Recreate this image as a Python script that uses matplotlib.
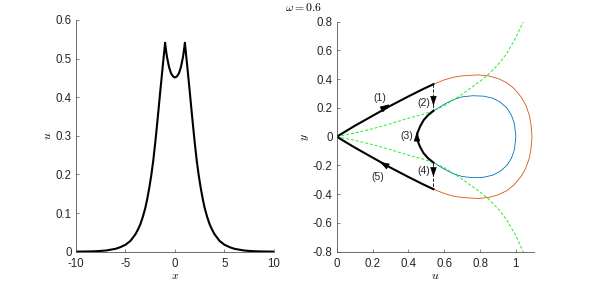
import numpy as np
import matplotlib
matplotlib.use("Agg")
import matplotlib.pyplot as plt

plt.rcParams['font.family'] = ['Liberation Sans', 'DejaVu Sans']
plt.rcParams['mathtext.fontset'] = 'cm'
plt.rcParams['axes.unicode_minus'] = False

# profil u(x)
x_prof = [-10, -9, -8, -7, -6, -5.5, -5, -4.5, -4, -3.75, -3.5, -3.25, -3, -2.8, -2.6, -2.4, -2.2,
          -2, -1.9, -1.8, -1.7, -1.6, -1.5, -1.4, -1.3, -1.2, -1.1, -1,
          -0.9, -0.8, -0.6, -0.4, -0.2, 0, 0.2, 0.4, 0.6, 0.8, 0.9,
          1, 1.1, 1.2, 1.3, 1.4, 1.5, 1.6, 1.7, 1.8, 1.9, 2,
          2.2, 2.4, 2.6, 2.8, 3, 3.25, 3.5, 3.75, 4, 4.5, 5, 5.5, 6, 7, 8, 9, 10]
u_prof = [0.0002, 0.0005, 0.0012, 0.003, 0.0075, 0.012, 0.018, 0.028, 0.045, 0.057, 0.071, 0.09, 0.113, 0.137, 0.165, 0.197, 0.235,
          0.281, 0.306, 0.332, 0.358, 0.385, 0.412, 0.438, 0.464, 0.49, 0.515, 0.541,
          0.52, 0.503, 0.478, 0.462, 0.454, 0.451, 0.454, 0.462, 0.478, 0.503, 0.52,
          0.541, 0.515, 0.49, 0.464, 0.438, 0.412, 0.385, 0.358, 0.332, 0.306, 0.281,
          0.235, 0.197, 0.165, 0.137, 0.113, 0.09, 0.071, 0.057, 0.045, 0.028, 0.018, 0.012, 0.0075, 0.003, 0.0012, 0.0005, 0.0002]

# plan de phase
# orbite externe (orange)
u_orange = [0.54, 0.6, 0.65, 0.7, 0.79, 0.85, 0.9, 0.95, 0.99, 1.03, 1.055, 1.075, 1.085, 1.09,
            1.085, 1.075, 1.055, 1.03, 0.99, 0.95, 0.9, 0.85, 0.79, 0.7, 0.65, 0.6, 0.54]
y_orange = [0.365, 0.395, 0.413, 0.423, 0.43, 0.422, 0.405, 0.375, 0.335, 0.275, 0.22, 0.15, 0.08, 0.0,
            -0.08, -0.15, -0.22, -0.275, -0.335, -0.375, -0.405, -0.422, -0.43, -0.423, -0.413, -0.395, -0.365]

# orbite interne (bleu)
u_blue = [0.54, 0.6, 0.65, 0.7, 0.76, 0.82, 0.87, 0.91, 0.95, 0.975, 0.992, 1.0,
          0.992, 0.975, 0.95, 0.91, 0.87, 0.82, 0.76, 0.7, 0.65, 0.6, 0.54]
y_blue = [0.18, 0.225, 0.257, 0.277, 0.285, 0.282, 0.268, 0.243, 0.2, 0.15, 0.09, 0.0,
          -0.09, -0.15, -0.2, -0.243, -0.268, -0.282, -0.285, -0.277, -0.257, -0.225, -0.18]

# separatrices (vert)
u_green = [0, 0.1, 0.2, 0.3, 0.4, 0.48, 0.54, 0.6, 0.65, 0.7, 0.75, 0.8, 0.84, 0.9, 0.95, 1.0, 1.045]
y_green_up = [0, 0.025, 0.055, 0.09, 0.128, 0.155, 0.18, 0.215, 0.255, 0.295, 0.34, 0.385, 0.425, 0.5, 0.58, 0.69, 0.81]
y_green_dn = [0, -0.025, -0.055, -0.09, -0.128, -0.155, -0.18, -0.215, -0.255, -0.295, -0.34, -0.385, -0.425, -0.5, -0.58, -0.69, -0.81]

# trajectoire (noir)
u_b1 = [0, 0.1, 0.2, 0.3, 0.4, 0.48, 0.54]
y_b1 = [0, 0.075, 0.145, 0.215, 0.28, 0.33, 0.365]
u_b3 = [0.54, 0.51, 0.485, 0.465, 0.452, 0.448, 0.452, 0.465, 0.485, 0.51, 0.54]
y_b3 = [0.18, 0.15, 0.115, 0.07, 0.03, 0.0, -0.03, -0.07, -0.115, -0.15, -0.18]
u_b5 = [0.54, 0.48, 0.4, 0.3, 0.2, 0.1, 0]
y_b5 = [-0.365, -0.33, -0.28, -0.215, -0.145, -0.075, 0]
u_jump = 0.54
y_jump_up = [0.365, 0.18]
y_jump_dn = [-0.18, -0.365]

etiquettes = ['(1)', '(2)', '(3)', '(4)', '(5)']
etiq_u = [0.238, 0.484, 0.39, 0.484, 0.227]
etiq_y = [0.267, 0.237, 0.005, -0.239, -0.278]

gris = '#262626'
fig = plt.figure(figsize=(5.9, 2.84), dpi=100)
ax1 = fig.add_axes([0.1288, 0.1137, 0.3356, 0.816])
ax2 = fig.add_axes([0.5707, 0.1137, 0.3340, 0.810])

ax1.plot(x_prof, u_prof, color='k', lw=1.5)
ax1.set_xlim(-10, 10)
ax1.set_ylim(0, 0.6)
ax1.set_xticks([-10, -5, 0, 5, 10])
ax1.set_xticklabels(['-10', '-5', '0', '5', '10'])
ax1.set_yticks([0, 0.1, 0.2, 0.3, 0.4, 0.5, 0.6])
ax1.set_yticklabels(['0', '0.1', '0.2', '0.3', '0.4', '0.5', '0.6'])
ax1.set_xlabel('$x$', fontsize=8.5, labelpad=0)
ax1.set_ylabel('$u$', fontsize=8.5, labelpad=1)

ax2.plot(u_orange, y_orange, color='#D95319', lw=0.6)
ax2.plot(u_blue, y_blue, color='#0072BD', lw=0.6)
ax2.plot(u_green, y_green_up, color='#22ee22', lw=0.7, ls=(0, (3, 2)))
ax2.plot(u_green, y_green_dn, color='#22ee22', lw=0.7, ls=(0, (3, 2)))
ax2.plot([u_jump, u_jump], y_jump_up, color='k', lw=0.6, ls=(0, (4, 2)))
ax2.plot([u_jump, u_jump], y_jump_dn, color='k', lw=0.6, ls=(0, (4, 2)))
ax2.plot(u_b1, y_b1, color='k', lw=1.5)
ax2.plot(u_b3, y_b3, color='k', lw=1.5)
ax2.plot(u_b5, y_b5, color='k', lw=1.5)

fleche = dict(arrowstyle='-|>,head_length=0.6,head_width=0.2', color='k', lw=0.5,
              mutation_scale=10, shrinkA=0, shrinkB=0)
ax2.annotate('', xy=(0.295, 0.225), xytext=(0.25, 0.19), arrowprops=fleche)
ax2.annotate('', xy=(0.54, 0.215), xytext=(0.54, 0.28), arrowprops=fleche)
ax2.annotate('', xy=(0.448, 0.035), xytext=(0.448, -0.03), arrowprops=fleche)
ax2.annotate('', xy=(0.54, -0.28), xytext=(0.54, -0.215), arrowprops=fleche)
ax2.annotate('', xy=(0.24, -0.175), xytext=(0.29, -0.21), arrowprops=fleche)

for t, uu, yy in zip(etiquettes, etiq_u, etiq_y):
    ax2.text(uu, yy, t, fontsize=7.5, ha='center', va='center', color=gris)

ax2.set_xlim(0, 1.1)
ax2.set_ylim(-0.8, 0.8)
ax2.set_xticks([0, 0.2, 0.4, 0.6, 0.8, 1])
ax2.set_xticklabels(['0', '0.2', '0.4', '0.6', '0.8', '1'])
ax2.set_yticks([-0.8, -0.6, -0.4, -0.2, 0, 0.2, 0.4, 0.6, 0.8])
ax2.set_yticklabels(['-0.8', '-0.6', '-0.4', '-0.2', '0', '0.2', '0.4', '0.6', '0.8'])
ax2.set_xlabel('$u$', fontsize=8.5, labelpad=0)
ax2.set_ylabel('$y$', fontsize=8.5, labelpad=1)

for ax in (ax1, ax2):
    ax.spines['top'].set_visible(False)
    ax.spines['right'].set_visible(False)
    for s in ('left', 'bottom'):
        ax.spines[s].set_color('#555555')
        ax.spines[s].set_linewidth(0.6)
    ax.tick_params(direction='in', length=2.5, width=0.5, colors='#555555',
                   labelcolor=gris, labelsize=8.3)
    ax.tick_params(axis='y', pad=3)
    ax.tick_params(axis='x', pad=4.5)

fig.text(0.514, 0.972, r'$\omega = 0.6$', fontsize=8.5, ha='center', va='center')

fig.savefig('out.png', dpi=100)
